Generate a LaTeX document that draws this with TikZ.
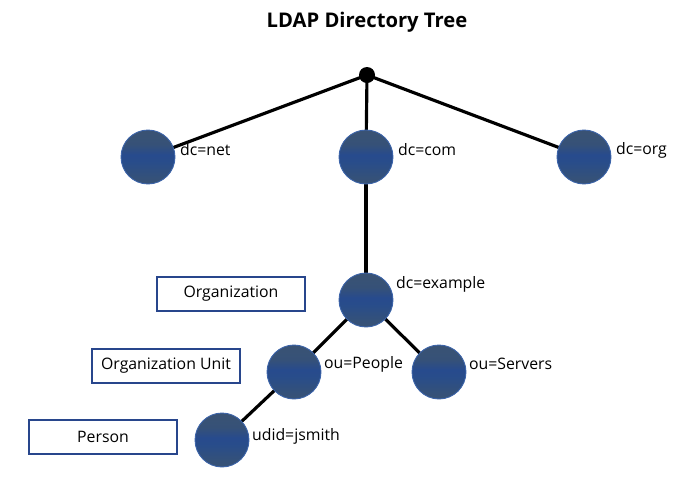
\documentclass[tikz,border=0pt]{standalone}
\usepackage{fontspec}
\setmainfont{Open Sans}
\usetikzlibrary{positioning,shadings,backgrounds}

\newlength{\ppx}
\setlength{\ppx}{0.02cm}
\pgfdeclareverticalshading{globe}{100bp}{
  color(0bp)=(rgb:red,0.62;green,0.78;blue,0.95);
  color(30bp)=(rgb:red,0.38;green,0.58;blue,0.86);
  color(46bp)=(rgb:red,0.22;green,0.42;blue,0.76);
  color(52bp)=(rgb:red,0.20;green,0.38;blue,0.72);
  color(62bp)=(rgb:red,0.40;green,0.60;blue,0.88);
  color(100bp)=(rgb:red,0.55;green,0.72;blue,0.94)}
\tikzset{
  sphere/.style={circle, minimum size=54\ppx, inner sep=0pt, shading=globe, draw={rgb,255:red,60;green,100;blue,170}, line width=0.5pt},
  lbl/.style={font=\fontsize{9}{10}\selectfont, anchor=west, inner sep=1pt},
  kind/.style={draw={rgb,255:red,40;green,70;blue,140}, line width=0.8pt, minimum width=148\ppx, minimum height=34\ppx, font=\fontsize{9}{10}\selectfont},
  link/.style={line width=1.8pt}
}

\begin{document}
\begin{tikzpicture}[x=0.02cm, y=-0.02cm]
  \useasboundingbox (0,0) rectangle (686,481);
  \node[font=\bfseries\fontsize{11.5}{13}\selectfont] (title) at (367,22) {LDAP Directory Tree};
  \node[circle, fill, inner sep=0pt, minimum size=16\ppx] (root) at (367,75) {};
  % nodes
  \node[sphere] (net) at (148,157) {};
  \node[sphere] (com) at (366,157) {};
  \node[sphere] (org) at (584,157) {};
  \node[sphere] (ex) at (366,300) {};
  \node[sphere] (ppl) at (294,372) {};
  \node[sphere] (srv) at (439,372) {};
  \node[sphere] (js) at (222,440) {};
  % connectors
  \begin{scope}[on background layer]
  \draw[link] (root.center) -- (net.center);
  \draw[link] (root.center) -- (com.center);
  \draw[link] (root.center) -- (org.center);
  \draw[link] (com.center) -- (ex.center);
  \draw[link] (ex.center) -- (ppl.center);
  \draw[link] (ex.center) -- (srv.center);
  \draw[link] (ppl.center) -- (js.center);
  \end{scope}
  % labels
  \node[lbl] (lnet) at (178,150) {dc=net};
  \node[lbl] (lcom) at (396,150) {dc=com};
  \node[lbl] (lorg) at (614,150) {dc=org};
  \node[lbl] (lex) at (394,284) {dc=example};
  \node[lbl] (lppl) at (322,364) {ou=People};
  \node[lbl] (lsrv) at (467,364) {ou=Servers};
  \node[lbl] (ljs) at (250,436) {udid=jsmith};
  % boxes
  \node[kind] (korg) at (231,294) {Organization};
  \node[kind] (kou) at (166,366) {Organization Unit};
  \node[kind] (kper) at (103,437) {Person};
\end{tikzpicture}
\end{document}
